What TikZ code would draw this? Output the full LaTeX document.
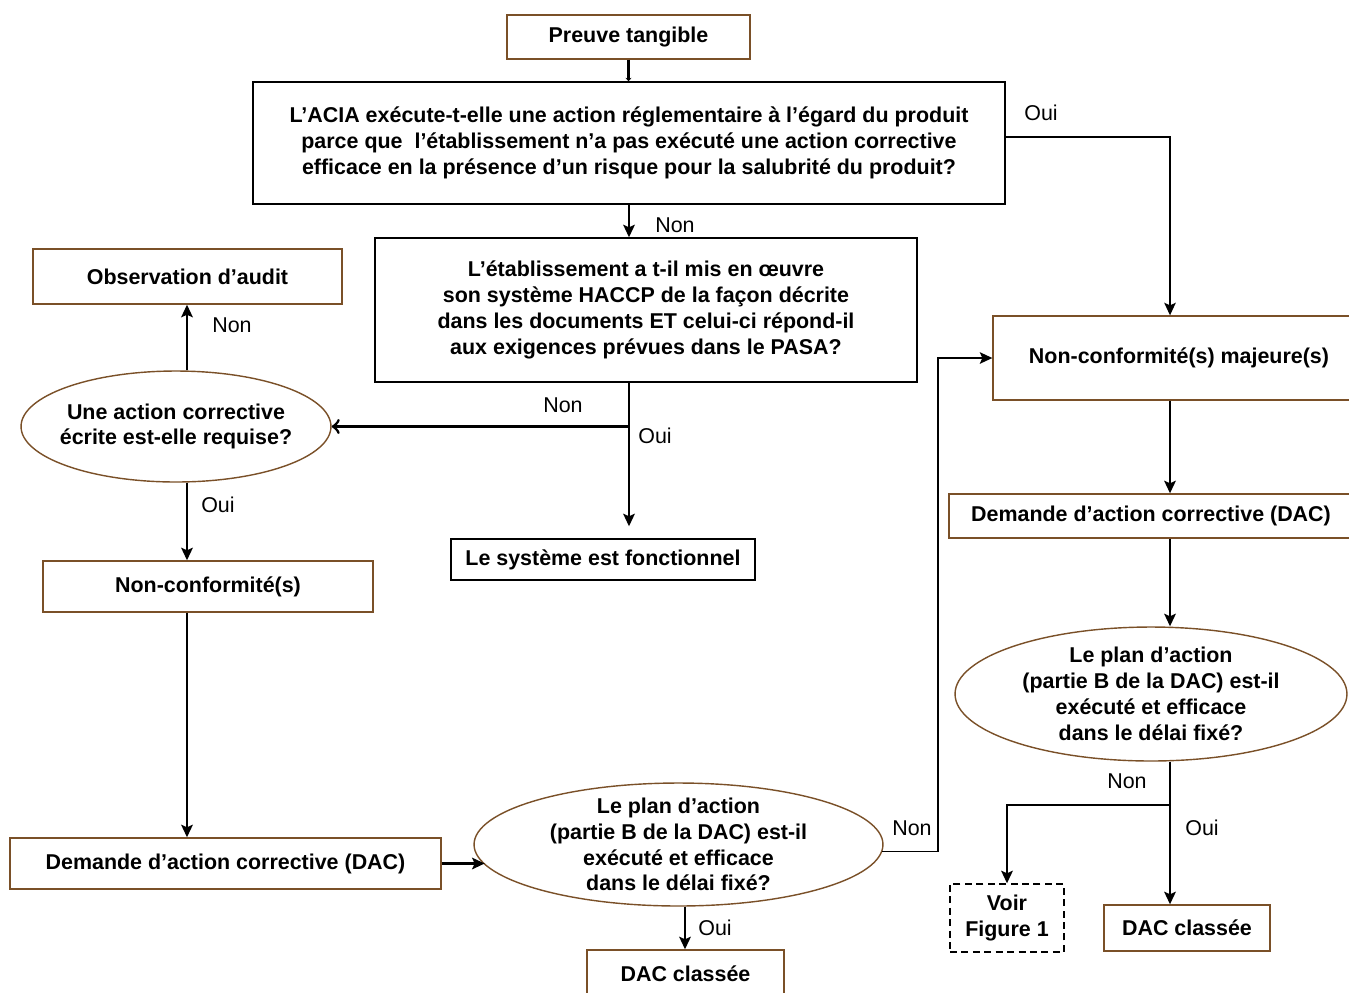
\documentclass[tikz,border=0pt]{standalone}
\usepackage{fontspec}
\setmainfont{Liberation Sans}
\usetikzlibrary{shapes.geometric,arrows.meta}
\definecolor{boxbrown}{RGB}{122,80,40}
\newcommand{\flowfont}{\fontsize{12.2pt}{14.7pt}\selectfont}

\begin{document}
\begin{tikzpicture}[x=0.02cm,y=-0.02cm,
  brownbox/.style={draw=boxbrown, line width=0.8pt, rectangle, inner sep=0pt,
                   align=center, font=\flowfont\bfseries},
  blackbox/.style={brownbox, draw=black},
  question/.style={brownbox, ellipse, inner ysep=-8pt, inner xsep=-6pt},
  refbox/.style={brownbox, draw=black, dashed, dash pattern=on 4pt off 2.5pt},
  lab/.style={inner sep=0pt, font=\flowfont},
  arr/.style={line width=1.6pt, -{Stealth[length=0.25cm,width=0.23cm,inset=0.05cm]}},
  arrthin/.style={line width=0.9pt, -{Stealth[length=0.25cm,width=0.23cm,inset=0.05cm]}},
  arropen/.style={line width=1.6pt, -{Classical TikZ Rightarrow[length=0.16cm,width=0.3cm]}},
  tinyarr/.style={line width=1.3pt, -{Stealth[length=0.07cm,width=0.12cm]}},
]
\useasboundingbox (0,0) rectangle (1349,992);
\clip (0,0) rectangle (1349,992);
\fill[white] (0,0) rectangle (1349,992);

% guide lines for the connectors
\coordinate (xM) at (629,0);
\coordinate (xL) at (187,0);
\coordinate (xD) at (685,0);
\coordinate (xR) at (1170,0);
\coordinate (xV) at (938,0);
\coordinate (yB) at (0,805);

% boxes
\node[brownbox, minimum width=4.86cm, minimum height=0.88cm] (pt) at (628.5,37) {Preuve tangible};
\node[blackbox, minimum width=15.04cm, minimum height=2.44cm] (acia) at (629,143)
  {L’ACIA exécute-t-elle une action réglementaire à l’égard du produit\\
   parce que \ l’établissement n’a pas exécuté une action corrective\\
   efficace en la présence d’un risque pour la salubrité du produit?};
\node[blackbox, minimum width=10.84cm, minimum height=2.88cm] (etab) at (646,310)
  {L’établissement a t-il mis en œuvre\\
   son système HACCP de la façon décrite\\
   dans les documents ET celui-ci répond-il\\
   aux exigences prévues dans le PASA?};
\node[brownbox, minimum width=6.18cm, minimum height=1.1cm] (obs) at (187.5,276.5) {Observation d’audit};
\node[question, minimum width=6.2cm, minimum height=2.22cm] (ell1) at (176,426.5)
  {Une action corrective\\ écrite est-elle requise?};
\node[blackbox, minimum width=6.08cm, minimum height=0.82cm] (sys) at (603,559.5) {Le système est fonctionnel};
\node[brownbox, minimum width=6.6cm, minimum height=1.02cm] (nc) at (208,586.5) {Non-conformité(s)};
\node[brownbox, minimum width=8.62cm, minimum height=1.02cm] (dacL) at (225.5,863.5) {Demande d’action corrective (DAC)};
\node[question, minimum width=8.18cm, minimum height=2.46cm] (ell2) at (678.5,844.5)
  {Le plan d’action\\ (partie B de la DAC) est-il\\ exécuté et efficace\\ dans le délai fixé?};
\node[brownbox, minimum width=3.94cm, minimum height=0.96cm] (dccL) at (685.5,974) {DAC classée};
\node[brownbox, minimum width=7.44cm, minimum height=1.68cm] (maj) at (1179,358) {Non-conformité(s) majeure(s)};
\node[brownbox, minimum width=8.08cm, minimum height=0.88cm] (dacR) at (1151,516) {Demande d’action corrective (DAC)};
\node[question, minimum width=7.84cm, minimum height=2.68cm] (ell3) at (1151,694)
  {Le plan d’action\\ (partie B de la DAC) est-il\\ exécuté et efficace\\ dans le délai fixé?};
\node[refbox, minimum width=2.28cm, minimum height=1.36cm] (voir) at (1007,918) {Voir\\ Figure 1};
\node[brownbox, minimum width=3.32cm, minimum height=0.92cm] (dccR) at (1187,928) {DAC classée};

% connectors
\draw[tinyarr] (pt.south) -- (pt.south |- acia.north);
\draw[arr] (xM |- acia.south) -- (xM |- etab.north);
\draw[arrthin] ([yshift=0.12cm]acia.east) -| (xR |- maj.north);
\draw[arr, shorten >=0.24cm] (xM |- etab.south) -- (xM |- sys.north);
\draw[arropen] (xM |- ell1.east) -- (ell1.east);
\draw[arr] (xL |- ell1.north) -- (xL |- obs.south);
\draw[arr] (xL |- ell1.south) -- (xL |- nc.north);
\draw[arr] (xL |- nc.south) -- (xL |- dacL.north);
\draw[arr] (dacL.east) -- (dacL.east -| ell2.186);
\draw[arr] (xD |- ell2.south) -- (xD |- dccL.north);
\draw[arrthin] (ell2.358) -- (xV |- ell2.358) |- (maj.west);
\draw[arr] (xR |- maj.south) -- (xR |- dacR.north);
\draw[arr] (xR |- dacR.south) -- (xR |- ell3.north);
\draw[arr] (xR |- ell3.south) -- (xR |- dccR.north);
\draw[arr] (xR |- yB) -| (voir.north);

% branch labels
\node[lab] (n1) at (675,225) {Non};
\node[lab] (o1) at (1041,113) {Oui};
\node[lab] (n2) at (563,405) {Non};
\node[lab] (o2) at (655,436) {Oui};
\node[lab] (n3) at (232,325) {Non};
\node[lab] (o3) at (218,505) {Oui};
\node[lab] (o4) at (715,928) {Oui};
\node[lab] (n4) at (912,828) {Non};
\node[lab] (n5) at (1127,781) {Non};
\node[lab] (o5) at (1202,828) {Oui};
\end{tikzpicture}
\end{document}
